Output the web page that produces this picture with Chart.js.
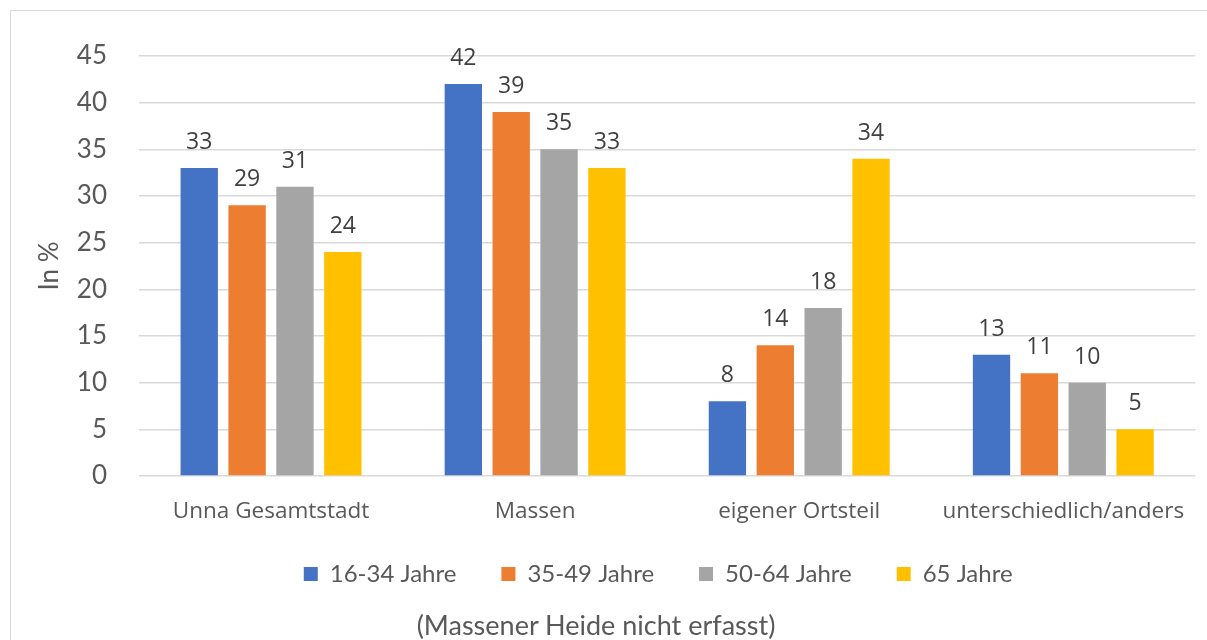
<!DOCTYPE html>
<html>
<head>
<meta charset="utf-8">
<script src="https://cdn.jsdelivr.net/npm/chart.js@4.4.1/dist/chart.umd.min.js"></script>
<style>
  html, body { margin: 0; padding: 0; background: #ffffff; }
  body { width: 1207px; height: 640px; position: relative; overflow: hidden; }
  #frame { position: absolute; left: 10px; top: 10px; width: 1300px; height: 700px; border: 1.5px solid #d9d9d9; box-sizing: border-box; }
  #wrap { position: absolute; left: 0; top: 0; width: 1207px; height: 640px; }
  #note { position: absolute; left: 0; width: 1192px; top: 609px; text-align: center; font-family: Lato, sans-serif; font-size: 27px; line-height: 32px; color: #595959; }
</style>
</head>
<body>
<div id="frame"></div>
<div id="wrap"><canvas id="c" width="1207" height="640"></canvas></div>
<div id="note">(Massener Heide nicht erfasst)</div>
<script>
const categories = ["Unna Gesamtstadt", "Massen", "eigener Ortsteil", "unterschiedlich/anders"];
const seriesNames = ["16-34 Jahre", "35-49 Jahre", "50-64 Jahre", "65 Jahre"];
const values16_34 = [33, 42, 8, 13];
const values35_49 = [29, 39, 14, 11];
const values50_64 = [31, 35, 18, 10];
const values65 = [24, 33, 34, 5];
const yTicks = [0, 5, 10, 15, 20, 25, 30, 35, 40, 45];
const colors = ["#4472C4", "#ED7D31", "#A5A5A5", "#FFC000"];

const seriesValues = [values16_34, values35_49, values50_64, values65];

const dataLabels = {
  id: 'dataLabels',
  afterDatasetsDraw(chart) {
    const ctx = chart.ctx;
    ctx.save();
    ctx.font = '23px "Open Sans", sans-serif';
    ctx.fillStyle = '#404040';
    ctx.textAlign = 'center';
    ctx.textBaseline = 'alphabetic';
    chart.data.datasets.forEach((ds, i) => {
      const meta = chart.getDatasetMeta(i);
      meta.data.forEach((el, j) => {
        ctx.fillText(String(ds.data[j]), el.x, el.y - 19);
      });
    });
    ctx.restore();
  }
};

const legendShift = {
  id: 'legendShift',
  afterLayout(chart) {
    const lg = chart.legend;
    if (lg) { lg.top -= 17; lg.bottom -= 17; lg.left -= 9; lg.right -= 9; }
  }
};

new Chart(document.getElementById('c'), {
  type: 'bar',
  data: {
    labels: categories,
    datasets: seriesNames.map((name, i) => ({
      label: name,
      data: seriesValues[i],
      backgroundColor: colors[i],
      borderWidth: 0,
      categoryPercentage: 0.725,
      barPercentage: 0.78
    }))
  },
  options: {
    responsive: false,
    animation: false,
    layout: { padding: { left: 20, right: 7, top: 56, bottom: 27 } },
    plugins: {
      legend: {
        position: 'bottom',
        fullSize: false,
        labels: {
          boxWidth: 14,
          boxHeight: 14,
          padding: 45,
          color: '#595959',
          font: { family: 'Lato', size: 24 }
        }
      },
      tooltip: { enabled: false },
      title: { display: false }
    },
    scales: {
      x: {
        grid: { display: false, drawTicks: false },
        border: { display: false },
        ticks: {
          color: '#595959',
          padding: 22,
          font: { family: '"Open Sans"', size: 22.5 },
          maxRotation: 0,
          autoSkip: false
        },
        afterFit(s) { s.height = 58; }
      },
      y: {
        min: 0,
        max: 45,
        afterBuildTicks(s) { s.ticks = yTicks.map(v => ({ value: v })); },
        grid: { color: '#d9d9d9', lineWidth: 1.5, drawTicks: false },
        border: { display: false },
        ticks: {
          color: '#595959',
          padding: 32,
          font: { family: 'Lato', size: 26 }
        },
        title: {
          display: true,
          text: 'In %',
          color: '#595959',
          font: { family: 'Lato', size: 26 },
          padding: { top: 14, bottom: 0 }
        },
        afterFit(s) { s.width = 119; }
      }
    }
  },
  plugins: [dataLabels, legendShift]
});
</script>
</body>
</html>
